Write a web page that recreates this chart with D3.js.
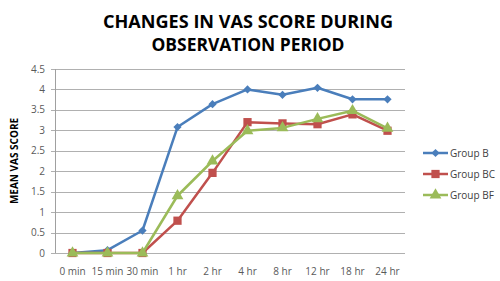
<!DOCTYPE html>
<html>
<head>
<meta charset="utf-8">
<script src="https://cdn.jsdelivr.net/npm/d3@7"></script>
<style>
  body { margin: 0; background: #fff; }
  svg { font-family: "Open Sans", "Liberation Sans", sans-serif; }
</style>
</head>
<body>
<div id="vizcontainer"></div>
<script>
const
  width = 500,
  height = 281
  ;

const categories = ['0 min', '15 min', '30 min', '1 hr', '2 hr', '4 hr', '8 hr', '12 hr', '18 hr', '24 hr'];
const groupB = [0, 0.07, 0.55, 3.08, 3.64, 4.0, 3.87, 4.04, 3.76, 3.76];
const groupBC = [0, 0, 0, 0.79, 1.96, 3.2, 3.17, 3.15, 3.39, 2.99];
const groupBF = [0, 0, 0, 1.4, 2.25, 2.99, 3.06, 3.28, 3.48, 3.05];
const yTicks = [0, 0.5, 1, 1.5, 2, 2.5, 3, 3.5, 4, 4.5];

// diamond = square turned 45 degrees
const series = [
  { name: 'Group B', values: groupB, color: '#4A7EBB', shape: d3.symbolSquare, size: 34, rot: 45 },
  { name: 'Group BC', values: groupBC, color: '#C0504D', shape: d3.symbolSquare, size: 68, rot: 0 },
  { name: 'Group BF', values: groupBF, color: '#9BBB59', shape: d3.symbolTriangle, size: 60, rot: 0 }
];

const plot = { left: 55, right: 405, top: 69, bottom: 253 };

let xScale = d3.scaleBand()
  .domain(categories)
  .range([plot.left, plot.right]);

let yScale = d3.scaleLinear()
  .domain([0, 4.5])
  .range([plot.bottom, plot.top]);

let viz = d3.select('#vizcontainer')
  .append('svg')
  .attr('width', width)
  .attr('height', height);

// title
viz.append('text')
  .attr('x', 248)
  .attr('text-anchor', 'middle')
  .attr('font-weight', 'bold')
  .attr('font-size', 17)
  .attr('fill', '#000')
  .selectAll('tspan')
  .data(['CHANGES IN VAS SCORE DURING', 'OBSERVATION PERIOD'])
  .join('tspan')
  .attr('x', 248)
  .attr('y', (d, i) => 28 + i * 23)
  .attr('textLength', (d, i) => i == 0 ? 290 : 193)
  .attr('lengthAdjust', 'spacingAndGlyphs')
  .text(d => d);

// grid
viz.append('g')
  .selectAll('line')
  .data(yTicks)
  .join('line')
  .attr('x1', plot.left - 4)
  .attr('x2', plot.right)
  .attr('y1', d => Math.round(yScale(d)) + 0.5)
  .attr('y2', d => Math.round(yScale(d)) + 0.5)
  .attr('stroke', '#B0B0B0')
  .attr('stroke-width', 1);

// y axis line
viz.append('line')
  .attr('x1', plot.left + 0.5)
  .attr('x2', plot.left + 0.5)
  .attr('y1', plot.top)
  .attr('y2', plot.bottom)
  .attr('stroke', '#A0A0A0');

// y tick labels
viz.append('g')
  .selectAll('text')
  .data(yTicks)
  .join('text')
  .attr('x', 45)
  .attr('y', d => yScale(d) + 3.5)
  .attr('text-anchor', 'end')
  .attr('font-size', 10)
  .attr('fill', '#595959')
  .text(d => d);

// x tick labels
viz.append('g')
  .selectAll('text')
  .data(categories)
  .join('text')
  .attr('x', d => xScale(d) + xScale.bandwidth() / 2)
  .attr('y', 275)
  .attr('text-anchor', 'middle')
  .attr('font-size', 10)
  .attr('fill', '#595959')
  .text(d => d);

// y axis title
viz.append('text')
  .attr('transform', 'translate(18,161) rotate(-90)')
  .attr('text-anchor', 'middle')
  .attr('font-weight', 'bold')
  .attr('font-size', 10)
  .attr('fill', '#000')
  .text('MEAN VAS SCORE');

let line = d3.line()
  .x((d, i) => xScale(categories[i]) + xScale.bandwidth() / 2)
  .y(d => yScale(d));

let groups = viz.append('g')
  .selectAll('g')
  .data(series)
  .join('g');

groups.append('path')
  .attr('d', d => line(d.values))
  .attr('fill', 'none')
  .attr('stroke', d => d.color)
  .attr('stroke-width', 2.5)
  .attr('stroke-linejoin', 'round');

groups.each(function (s) {
  d3.select(this).selectAll('path.marker')
    .data(s.values)
    .join('path')
    .attr('class', 'marker')
    .attr('transform', (d, i) => `translate(${xScale(categories[i]) + xScale.bandwidth() / 2},${yScale(d)}) rotate(${s.rot})`)
    .attr('d', d3.symbol().type(s.shape).size(s.size))
    .attr('fill', s.color);
});

// legend
let legend = viz.append('g')
  .selectAll('g')
  .data(series)
  .join('g')
  .attr('transform', (d, i) => `translate(423,${153 + i * 21})`);

legend.append('line')
  .attr('x1', 0)
  .attr('x2', 25)
  .attr('stroke', d => d.color)
  .attr('stroke-width', 2.5);

legend.append('path')
  .attr('transform', d => `translate(12.5,0) rotate(${d.rot})`)
  .attr('d', d => d3.symbol().type(d.shape).size(d.size)())
  .attr('fill', d => d.color);

legend.append('text')
  .attr('x', 27)
  .attr('y', 3.5)
  .attr('font-size', 10)
  .attr('fill', '#404040')
  .text(d => d.name);
</script>
</body>
</html>
